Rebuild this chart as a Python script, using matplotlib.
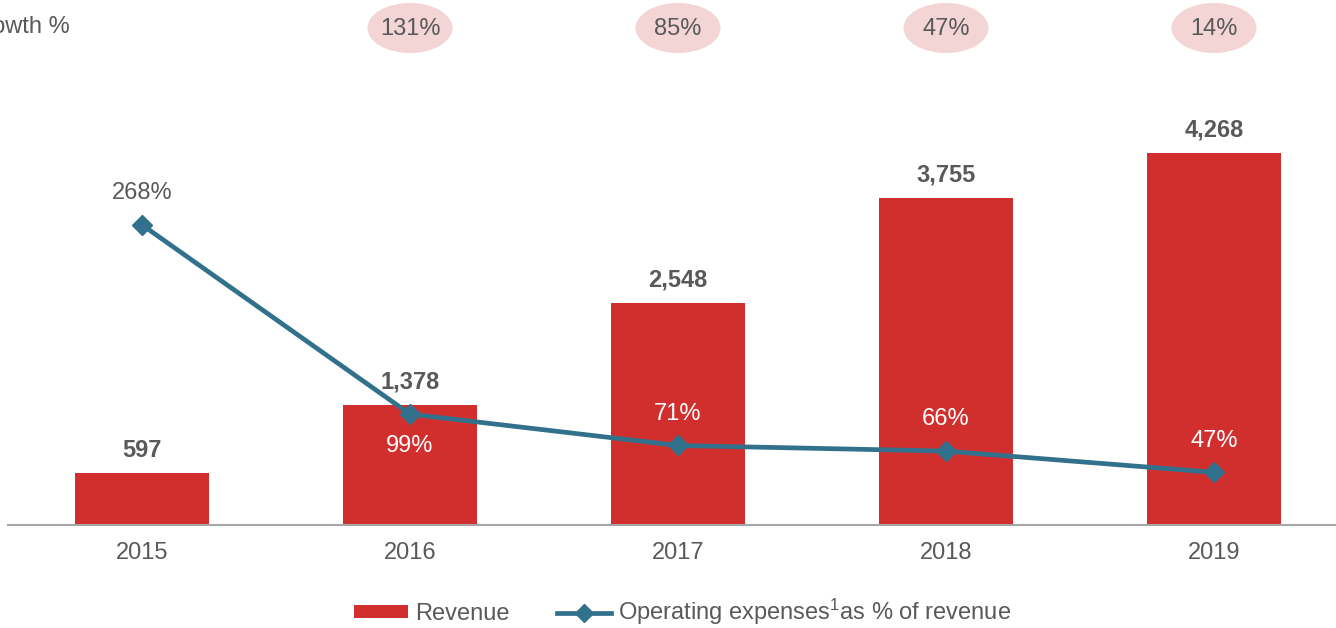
import numpy as np
import matplotlib.pyplot as plt
from matplotlib.patches import Ellipse, Patch
from matplotlib.lines import Line2D

plt.rcParams['font.family'] = ['Liberation Sans', 'DejaVu Sans']
plt.rcParams['mathtext.default'] = 'regular'

years = ['2015', '2016', '2017', '2018', '2019']
revenue = [597, 1378, 2548, 3755, 4268]
opex_pct = [268, 99, 71, 66, 47]
growth = [None, '131%', '85%', '47%', '14%']
opex_label_above = [True, False, True, True, True]

bar_color = '#D12F2E'
line_color = '#31718C'
gray = '#595959'
pink = '#F4D5D5'
fs = 17

W, H = 1336, 628
fig = plt.figure(figsize=(W / 100, H / 100), dpi=100)
# axes: x from 8 to 1348 px, y from baseline 525 up to 100
ax = fig.add_axes([8 / W, (H - 525) / H, 1340 / W, 425 / H])
x = np.arange(len(years))

ax.bar(x, revenue, width=0.5, color=bar_color, zorder=2)
ax.set_xlim(-0.5, 4.5)
ax.set_ylim(0, 425 / 0.08716)
for xi, v in zip(x, revenue):
    ax.annotate(f'{v:,}', (xi, v), xytext=(0, 8), textcoords='offset points',
                ha='center', va='bottom', fontsize=fs, fontweight='bold', color=gray)

for s in ['top', 'right', 'left']:
    ax.spines[s].set_visible(False)
ax.spines['bottom'].set_color('#A6A6A6')
ax.spines['bottom'].set_linewidth(1.5)
ax.set_yticks([])
ax.set_xticks(x)
ax.set_xticklabels(years, fontsize=fs, color=gray)
ax.tick_params(axis='x', length=0, pad=12)

ax2 = ax.twinx()
ax2.set_ylim(0, 425 / 1.12)
ax2.set_axis_off()
ax2.plot(x, opex_pct, color=line_color, lw=3.4, marker='D', ms=10, zorder=3)
for xi, v, above in zip(x, opex_pct, opex_label_above):
    col = gray if xi == 0 else 'white'
    if above:
        ax2.annotate(f'{v}%', (xi, v), xytext=(0, 15), textcoords='offset points',
                     ha='center', va='bottom', fontsize=fs, color=col)
    else:
        ax2.annotate(f'{v}%', (xi, v), xytext=(0, -15), textcoords='offset points',
                     ha='center', va='top', fontsize=fs, color=col)

# growth bubbles along the top
fig.text(70 / W, 1 - 27 / H, 'Growth %', ha='right', va='center', fontsize=fs, color=gray)
for xi, g in zip(x, growth):
    if g is None:
        continue
    px = 8 + (xi + 0.5) * 268
    e = Ellipse((px / W, 1 - 28 / H), 85 / W, 50 / H, transform=fig.transFigure,
                facecolor=pink, edgecolor='none')
    fig.add_artist(e)
    fig.text(px / W, 1 - 29 / H, g, ha='center', va='center', fontsize=fs, color=gray)

handles = [Patch(facecolor=bar_color, edgecolor='none'),
           Line2D([0], [0], color=line_color, lw=3.4, marker='D', ms=9)]
labels = ['Revenue', 'Operating expenses$^{1}$as % of revenue']
fig.legend(handles, labels, loc='center', bbox_to_anchor=(0.511, 1 - 612 / H), ncol=2,
           frameon=False, fontsize=fs, labelcolor=gray, handlelength=2.3, handleheight=0.45,
           handletextpad=0.3, columnspacing=2.0)

fig.savefig('out.png', dpi=100)
